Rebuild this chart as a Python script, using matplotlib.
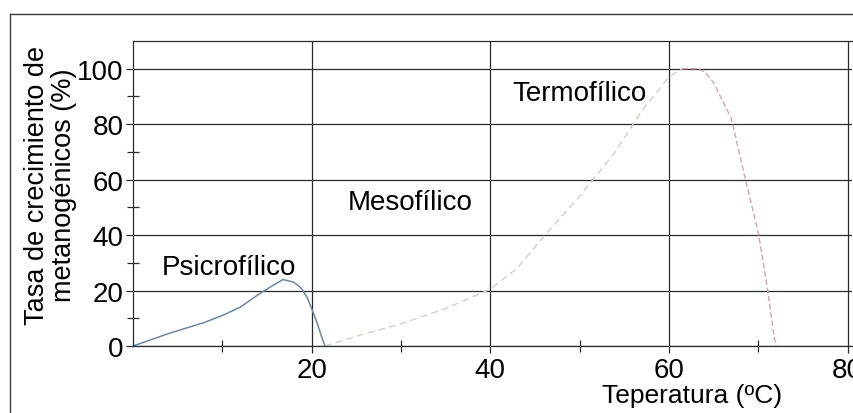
import matplotlib.pyplot as plt
from matplotlib.lines import Line2D

# Growth curves of methanogens by temperature range
psicro_temp = [0, 4, 8, 10, 12, 14, 15.5, 16.8, 18, 18.8, 19.5, 20, 20.6, 21.1, 21.5]
psicro_rate = [0, 4.5, 8.5, 11, 14, 18.5, 21.5, 24, 23, 21, 17.5, 13.5, 8.5, 3.5, 0]

meso_temp = [21.5, 25, 30, 35, 40, 43, 46, 50, 54, 57, 60, 61.5]
meso_rate = [0, 3.5, 8, 13.5, 20.5, 28, 39.5, 54, 70, 85, 97, 100]

termo_temp = [61.5, 63, 64, 65, 67, 68.5, 70, 71, 71.7, 72]
termo_rate = [100, 100, 99, 95, 82, 61, 41, 21.5, 5, 0]

x_ticks = [20, 40, 60, 80]
y_ticks = [0, 20, 40, 60, 80, 100]

plt.rcParams['font.family'] = ['Liberation Sans', 'DejaVu Sans']

fig = plt.figure(figsize=(8.54, 4.14), dpi=100)
ax = fig.add_axes([133 / 854, 67 / 414, 719 / 854, 305 / 414])

ax.plot(psicro_temp, psicro_rate, color='#6f87a0', lw=1.1)
ax.plot(meso_temp, meso_rate, color='#ccd3c6', lw=1.0, ls=(0, (5, 3)))
ax.plot(termo_temp, termo_rate, color='#d3a3b3', lw=1.0, ls=(0, (4, 2)))

ax.set_xlim(0, 80.5)
ax.set_ylim(0, 110)
ax.set_xticks(x_ticks)
ax.set_yticks(y_ticks)
ax.set_xticks([10, 30, 50, 70], minor=True)
ax.set_yticks([10, 30, 50, 70, 90], minor=True)
ax.grid(True, which='major', color='#2a2a2a', lw=0.9)

ax.tick_params(axis='both', which='major', labelsize=20, length=5, width=0.9, color='#2a2a2a')
ax.tick_params(axis='x', which='major', pad=3)
ax.tick_params(axis='y', which='major', pad=2)
ax.tick_params(axis='both', which='minor', direction='inout', length=9, width=0.9, color='#2a2a2a')

for side in ['left', 'bottom', 'top']:
    ax.spines[side].set_color('#2a2a2a')
    ax.spines[side].set_linewidth(0.9)
ax.spines['right'].set_visible(False)

ax.set_ylabel('Tasa de crecimiento de\nmetanogénicos (%)', fontsize=19.5, linespacing=1.05)
ax.yaxis.set_label_coords(-0.078, 0.53)
ax.set_xlabel('Teperatura (ºC)', fontsize=19)
ax.xaxis.set_label_coords(0.777, -0.122)

ax.text(10.75, 28.4, 'Psicrofílico', fontsize=20, ha='center', va='center')
ax.text(31, 51.8, 'Mesofílico', fontsize=20, ha='center', va='center')
ax.text(50, 91.4, 'Termofílico', fontsize=20, ha='center', va='center')

# outer frame of the figure
fig.add_artist(Line2D([10 / 854, 1], [1 - 15 / 414, 1 - 15 / 414], transform=fig.transFigure,
                      color='#3a3a3a', lw=1.0))
fig.add_artist(Line2D([10 / 854, 10 / 854], [0, 1 - 15 / 414], transform=fig.transFigure,
                      color='#3a3a3a', lw=1.0))

fig.savefig('out.png', dpi=100)
